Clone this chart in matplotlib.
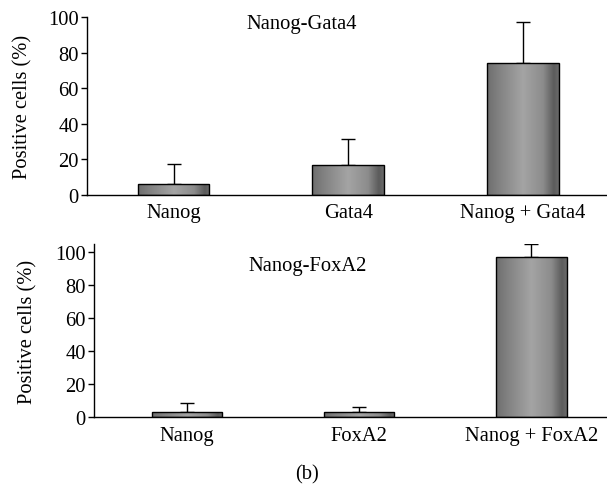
import numpy as np
import matplotlib
matplotlib.use("Agg")
import matplotlib.pyplot as plt
from matplotlib.colors import LinearSegmentedColormap

plt.rcParams['font.family'] = ['Liberation Serif', 'DejaVu Serif']
FS = 14.8

# Data
cats_top = ["Nanog", "Gata4", "Nanog + Gata4"]
vals_top = [6.3, 17.0, 74.0]
err_top = [11.0, 14.5, 23.0]
title_top = "Nanog-Gata4"

cats_bot = ["Nanog", "FoxA2", "Nanog + FoxA2"]
vals_bot = [3.0, 3.0, 97.0]
err_bot = [5.5, 3.5, 7.7]
title_bot = "Nanog-FoxA2"

ylabel = "Positive cells (%)"
yticks_top = [0, 20, 40, 60, 80, 100]
yticks_bot = [0, 20, 40, 60, 80, 100]

W, H = 607, 489
fig = plt.figure(figsize=(W / 100, H / 100), dpi=100)

cmap = LinearSegmentedColormap.from_list(
    "barg",
    [(0.0, "#6e6e6e"), (0.15, "#808080"), (0.5, "#a4a4a4"), (0.78, "#8c8c8c"),
     (0.93, "#5c5c5c"), (1.0, "#6a6a6a")])
grad = np.linspace(0, 1, 256).reshape(1, -1)


def panel(rect, cats, vals, errs, title, xlim, ylim, ticks, label_x,
          title_x, title_y):
    ax = fig.add_axes(rect)
    x = np.arange(len(cats))
    bars = ax.bar(x, vals, width=0.41, color="none", edgecolor="black",
                  linewidth=1.0, zorder=3)
    for b in bars:
        x0, y0 = b.get_x(), b.get_y()
        w, h = b.get_width(), b.get_height()
        im = ax.imshow(grad, cmap=cmap, aspect="auto",
                       extent=(x0, x0 + w, y0, y0 + h), zorder=2)
        im.set_clip_path(b)
    ax.errorbar(x, vals, yerr=[np.zeros(len(errs)), errs], fmt="none",
                ecolor="black", elinewidth=1.0, capsize=5, capthick=1.0,
                zorder=1)
    ax.set_xlim(*xlim)
    ax.set_ylim(*ylim)
    ax.set_yticks(ticks)
    ax.set_xticks(x)
    ax.set_xticklabels(cats)
    ax.tick_params(axis="x", length=0, pad=6, labelsize=FS)
    ax.tick_params(axis="y", length=4, width=1, direction="out", pad=2,
                   labelsize=FS)
    for s in ["top", "right"]:
        ax.spines[s].set_visible(False)
    for s in ["left", "bottom"]:
        ax.spines[s].set_linewidth(1.0)
    ax.set_ylabel(ylabel, fontsize=FS)
    ax.yaxis.set_label_coords(label_x, 0.5)
    ax.text(title_x, title_y, title, fontsize=FS, ha="center", va="center")
    return ax


# Top panel
panel([87 / W, 1 - 196 / H, 520 / W, 178 / H], cats_top, vals_top, err_top,
      title_top, (-0.495, 2.48), (0, 100), yticks_top, -0.104, 0.735, 96.5)
# Bottom panel
panel([94 / W, 1 - 418.3 / H, 513 / W, 173.3 / H], cats_bot, vals_bot, err_bot,
      title_bot, (-0.54, 2.44), (0, 105), yticks_bot, -0.111, 0.70, 92.0)

fig.text(307 / W, 1 - 475 / H, "(b)", fontsize=FS, ha="center", va="center")

fig.savefig("out.png", dpi=100)
